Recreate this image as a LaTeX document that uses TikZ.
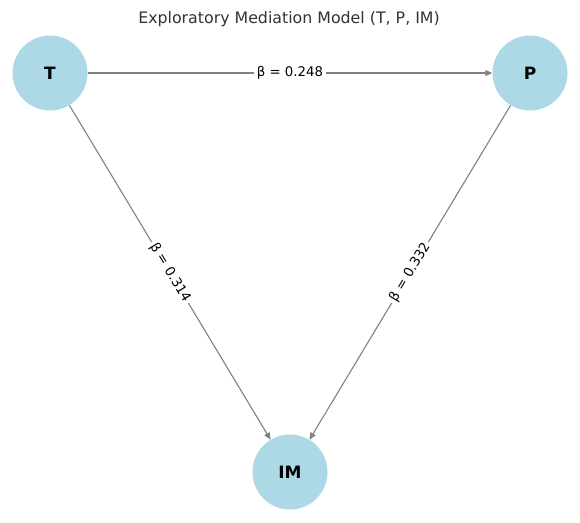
\documentclass[tikz,border=0pt]{standalone}
\usepackage{fontspec}
\setmainfont{DejaVu Sans}
\usetikzlibrary{arrows.meta}
\definecolor{nodeblue}{HTML}{ADD8E6}
\definecolor{edgegray}{HTML}{808080}
\definecolor{titlegray}{HTML}{333333}
\begin{document}
\begin{tikzpicture}[x=1pt,y=-1pt,
  vnode/.style={circle,fill=nodeblue,minimum size=75pt,inner sep=0pt,font=\fontsize{17}{19}\selectfont\bfseries},
  edge/.style={draw=edgegray,line width=1.1pt,-{Triangle[length=7pt,width=6pt]}},
  elabel/.style={fill=white,inner sep=2.5pt,font=\fontsize{13.3}{15}\selectfont,sloped}]
\useasboundingbox (0,0) rectangle (580,522);
\node[font=\fontsize{15.8}{18}\selectfont,text=titlegray] (title) at (289,19) {Exploratory Mediation Model (T, P, IM)};
\node[vnode] (T) at (50,73) {T};
\node[vnode] (P) at (530,73) {P};
\node[vnode] (IM) at (290,472) {IM};
\draw[edge] (T) -- node[elabel] {β = 0.248} (P);
\draw[edge] (T) -- node[elabel] {β = 0.314} (IM);
\draw[edge] (P) -- node[elabel] {β = 0.332} (IM);
\end{tikzpicture}
\end{document}
